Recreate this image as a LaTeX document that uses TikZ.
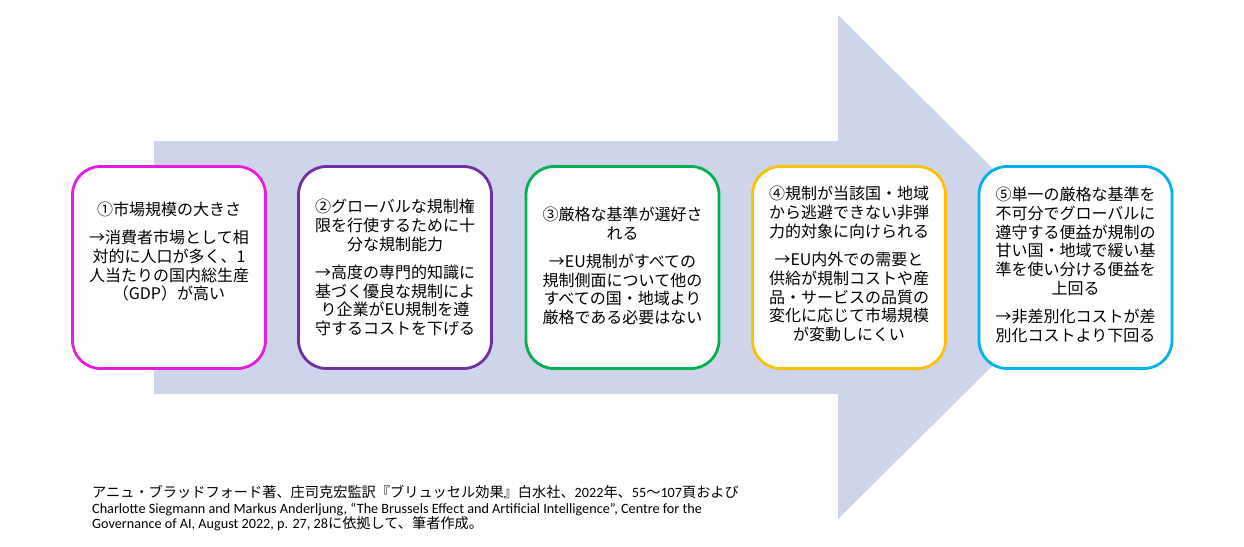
\documentclass[tikz,border=0pt]{standalone}
\usepackage{fontspec}
\newfontfamily\jpfont{Noto Sans CJK JP}
\newfontfamily\latfont{Carlito}
\definecolor{arrowfill}{RGB}{206,212,234}
\definecolor{cone}{RGB}{232,28,224}
\definecolor{ctwo}{RGB}{112,48,160}
\definecolor{cthree}{RGB}{0,176,80}
\definecolor{cfour}{RGB}{255,192,0}
\definecolor{cfive}{RGB}{0,176,240}
\newcommand{\notelatsize}{\latfont\fontsize{14.2}{15.5}\selectfont}
\newcommand{\notejpsize}{\jpfont\fontsize{14.2}{15.5}\selectfont}
\tikzset{
  stagebox/.style={draw=#1, line width=2.8pt, fill=white, rounded corners=28pt,
    minimum width=193pt, minimum height=202pt, inner sep=0pt},
  stagetext/.style={align=center, inner sep=0pt,
    font=\jpfont\fontsize{16}{18.7}\selectfont},
  notejp/.style={anchor=base west, inner sep=0pt, font=\notejpsize},
  notelat/.style={anchor=base west, inner sep=0pt, font=\notelatsize}
}
\begin{document}
\begin{tikzpicture}[x=1pt,y=-1pt]
\useasboundingbox (0,0) rectangle (1244,546);
% big arrow
\fill[arrowfill] (154,141) -- (838,141) -- (838,15) -- (1092,267) -- (838,519) -- (838,394) -- (154,394) -- cycle;
% boxes
\node[stagebox=cone]   (b1) at (169,267.5) {};
\node[stagebox=ctwo]   (b2) at (395,267.5) {};
\node[stagebox=cthree] (b3) at (622.5,267.5) {};
\node[stagebox=cfour]  (b4) at (849,267.5) {};
\node[stagebox=cfive]  (b5) at (1075.5,267.5) {};
% texts
\node[stagetext] (t1) at (169,251.7) {①市場規模の大きさ\\[9.7pt]→消費者市場として相\\対的に人口が多く、1\\人当たりの国内総生産\\（GDP）が高い};
\node[stagetext] (t2) at (395,267.5) {②グローバルな規制権\\限を行使するために十\\分な規制能力\\[9.7pt]→高度の専門的知識に\\基づく優良な規制によ\\り企業がEU規制を遵\\守するコストを下げる};
\node[stagetext] (t3) at (622.5,265.8) {③厳格な基準が選好さ\\れる\\[9.7pt]→EU規制がすべての\\規制側面について他の\\すべての国・地域より\\厳格である必要はない};
\node[stagetext] (t4) at (849,264.2) {④規制が当該国・地域\\から逃避できない非弾\\力的対象に向けられる\\[9.7pt]→EU内外での需要と\\供給が規制コストや産\\品・サービスの品質の\\変化に応じて市場規模\\が変動しにくい};
\node[stagetext] (t5) at (1075.5,265) {⑤単一の厳格な基準を\\不可分でグローバルに\\遵守する便益が規制の\\甘い国・地域で緩い基\\準を使い分ける便益を\\上回る\\[9.7pt]→非差別化コストが差\\別化コストより下回る};
% footnote
\node[notejp] (f1) at (92,497.5) {アニュ・ブラッドフォード著、庄司克宏監訳『ブリュッセル効果』白水社、{\notelatsize 2022}年、{\notelatsize 55}〜{\notelatsize 107}頁および};
\node[notelat] (f2) at (92,513.3) {Charlotte Siegmann and Markus Anderljung, “The Brussels Effect and Artificial Intelligence”, Centre for the};
\node[notelat] (f3) at (92,528.3) {Governance of AI, August 2022, p. 27, 28{\notejpsize に依拠して、筆者作成。}};
\end{tikzpicture}
\end{document}
